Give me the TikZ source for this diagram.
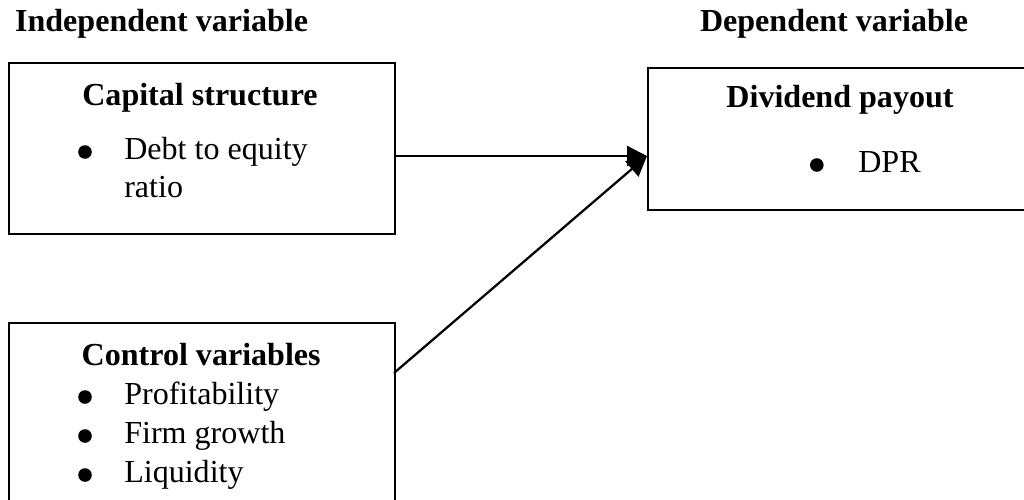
\documentclass[tikz,border=0pt]{standalone}
\usepackage{fontspec}
\setmainfont{Liberation Serif}
\usetikzlibrary{arrows.meta}

\begin{document}
\begin{tikzpicture}[
    varbox/.style={draw, line width=1.6pt, minimum width=9.65cm, minimum height=4.275cm, inner sep=0pt},
    txt/.style={inner sep=0pt, font=\fontsize{22.8}{27}\selectfont},
    hd/.style={inner sep=0pt, font=\fontsize{22.8}{27}\selectfont\bfseries},
    dot/.style={circle, fill, inner sep=0pt, minimum size=0.34cm},
    link/.style={-{Triangle[length=0.5cm,width=0.5cm]}, line width=1.6pt}
  ]
  \clip (0,0) rectangle (25.6,-12.5);

  % headings
  \node[hd, anchor=base] (indep) at (4.04,-0.8) {Independent variable};
  \node[hd, anchor=base] (dep) at (20.85,-0.8) {Dependent variable};

  % boxes
  \node[varbox, anchor=north west] (cap) at (0.2,-1.55) {};
  \node[varbox, anchor=north west, minimum height=5cm] (ctl) at (0.2,-8.05) {};
  \node[varbox, anchor=north west, minimum width=10cm, minimum height=3.55cm] (div) at (16.175,-1.675) {};

  % capital structure
  \node[hd, anchor=base] (capt) at (5.0,-2.65) {Capital structure};
  \node[dot] (capb) at (2.125,-3.8) {};
  \node[txt, anchor=base west] (cap1) at (3.1,-3.975) {Debt to equity};
  \node[txt, anchor=base west] (cap2) at (3.1,-4.925) {ratio};

  % control variables
  \node[hd, anchor=base] (ctlt) at (5.03,-9.125) {Control variables};
  \node[dot] (ctlb1) at (2.125,-9.925) {};
  \node[txt, anchor=base west] (ctl1) at (3.1,-10.1) {Profitability};
  \node[dot] (ctlb2) at (2.125,-10.9) {};
  \node[txt, anchor=base west] (ctl2) at (3.1,-11.075) {Firm growth};
  \node[dot] (ctlb3) at (2.125,-11.875) {};
  \node[txt, anchor=base west] (ctl3) at (3.1,-12.05) {Liquidity};

  % dividend payout
  \node[hd, anchor=base] (divt) at (21.0,-2.7) {Dividend payout};
  \node[dot] (divb) at (20.42,-4.125) {};
  \node[txt, anchor=base west] (div1) at (21.45,-4.3) {DPR};

  % arrows
  \coordinate (tip) at (16.175,-3.9);
  \coordinate (ctlout) at (9.85,-9.325);
  \draw[link] (cap.east |- tip) -- (tip);
  \draw[link] (ctlout) -- (tip);
\end{tikzpicture}
\end{document}
